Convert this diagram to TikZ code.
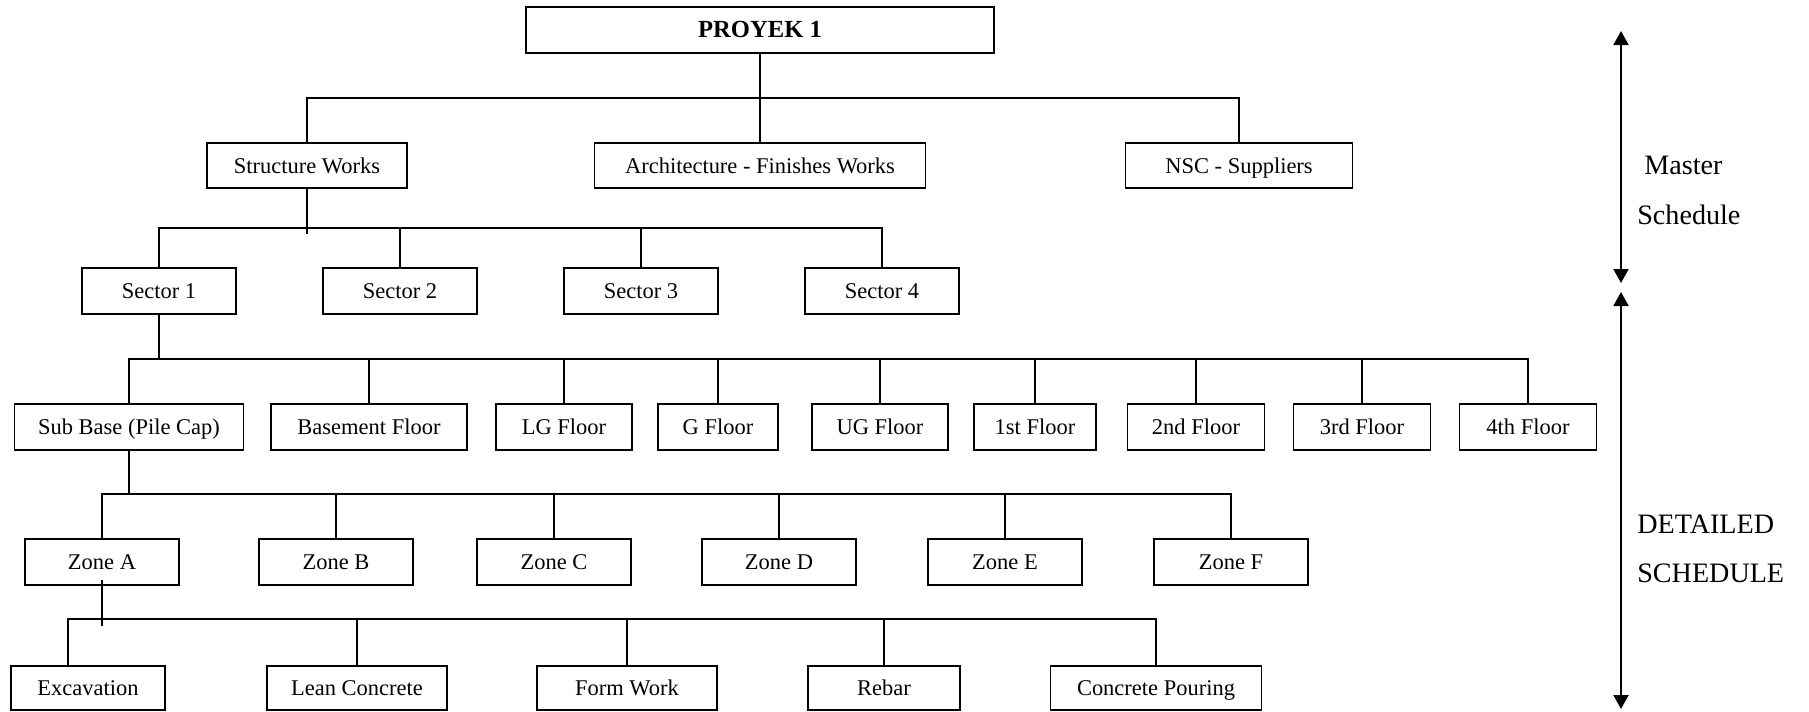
\documentclass[tikz,border=0pt]{standalone}
\usepackage{fontspec}
\setmainfont{Liberation Serif}
\usetikzlibrary{arrows.meta}

\begin{document}
\begin{tikzpicture}[x=0.02cm,y=-0.02cm,
	box/.style={draw,line width=0.8pt,inner sep=0pt,minimum height=0.92cm,text height=0.9em,text depth=0em,font=\fontsize{12.8}{15}\selectfont},
	link/.style={line width=0.8pt},
	span/.style={line width=1.1pt,{Triangle[width=0.3cm,length=0.28cm]}-{Triangle[width=0.3cm,length=0.28cm]}},
	tag/.style={anchor=west,inner sep=0pt,font=\fontsize{16}{18}\selectfont}
	]
	\useasboundingbox (0,0) rectangle (1809,711);

	\node[box,minimum width=9.36cm,font=\fontsize{14}{16}\selectfont\bfseries] (proyek) at (760,30) {PROYEK 1};

	\node[box,minimum width=4cm,minimum height=0.9cm] (sw) at (307,165.5) {Structure Works};
	\node[box,minimum width=6.62cm,minimum height=0.9cm] (arch) at (760,165.5) {Architecture - Finishes Works};
	\node[box,minimum width=4.54cm,minimum height=0.9cm] (nsc) at (1239,165.5) {NSC - Suppliers};

	\node[box,minimum width=3.08cm] (s1) at (159,291) {Sector 1};
	\node[box,minimum width=3.08cm] (s2) at (400,291) {Sector 2};
	\node[box,minimum width=3.08cm] (s3) at (641,291) {Sector 3};
	\node[box,minimum width=3.08cm] (s4) at (882,291) {Sector 4};

	\node[box,minimum width=4.58cm] (sub) at (129,427) {Sub Base (Pile Cap)};
	\node[box,minimum width=3.92cm] (bas) at (369,427) {Basement Floor};
	\node[box,minimum width=2.72cm] (lg) at (564,427) {LG Floor};
	\node[box,minimum width=2.4cm] (gf) at (718,427) {G Floor};
	\node[box,minimum width=2.72cm] (ug) at (880,427) {UG Floor};
	\node[box,minimum width=2.44cm] (f1) at (1035,427) {1st Floor};
	\node[box,minimum width=2.74cm] (f2) at (1196,427) {2nd Floor};
	\node[box,minimum width=2.74cm] (f3) at (1362,427) {3rd Floor};
	\node[box,minimum width=2.74cm] (f4) at (1528,427) {4th Floor};

	\node[box,minimum width=3.08cm] (za) at (102,562) {Zone A};
	\node[box,minimum width=3.08cm] (zb) at (336,562) {Zone B};
	\node[box,minimum width=3.08cm] (zc) at (554,562) {Zone C};
	\node[box,minimum width=3.08cm] (zd) at (779,562) {Zone D};
	\node[box,minimum width=3.08cm] (ze) at (1005,562) {Zone E};
	\node[box,minimum width=3.08cm] (zf) at (1231,562) {Zone F};

	\node[box,minimum width=3.08cm,minimum height=0.88cm] (exc) at (88,688) {Excavation};
	\node[box,minimum width=3.6cm,minimum height=0.88cm] (lean) at (357,688) {Lean Concrete};
	\node[box,minimum width=3.6cm,minimum height=0.88cm] (form) at (627,688) {Form Work};
	\node[box,minimum width=3.04cm,minimum height=0.88cm] (rebar) at (884,688) {Rebar};
	\node[box,minimum width=4.22cm,minimum height=0.88cm] (pour) at (1156,688) {Concrete Pouring};

	% bus levels
	\coordinate (bus1) at (0,98);
	\coordinate (bus2) at (0,228);
	\coordinate (bus3) at (0,359);
	\coordinate (bus4) at (0,494);
	\coordinate (bus5) at (0,619);

	\draw[link] (proyek) -- (arch);
	\draw[link] (sw.north) |- (nsc.north |- bus1) -- (nsc.north);

	\draw[link] (sw.south) -- ++(0,45);
	\draw[link] (s1.north) |- (s4.north |- bus2) -- (s4.north);
	\draw[link] (s2.north) -- (s2.north |- bus2);
	\draw[link] (s3.north) -- (s3.north |- bus2);

	\draw[link] (s1.south) -- (s1.south |- bus3);
	\draw[link] (sub.north) |- (f4.north |- bus3) -- (f4.north);
	\draw[link] (bas.north) -- (bas.north |- bus3);
	\draw[link] (lg.north) -- (lg.north |- bus3);
	\draw[link] (gf.north) -- (gf.north |- bus3);
	\draw[link] (ug.north) -- (ug.north |- bus3);
	\draw[link] (f1.north) -- (f1.north |- bus3);
	\draw[link] (f2.north) -- (f2.north |- bus3);
	\draw[link] (f3.north) -- (f3.north |- bus3);

	\draw[link] (sub.south) -- (sub.south |- bus4);
	\draw[link] (za.north) |- (zf.north |- bus4) -- (zf.north);
	\draw[link] (zb.north) -- (zb.north |- bus4);
	\draw[link] (zc.north) -- (zc.north |- bus4);
	\draw[link] (zd.north) -- (zd.north |- bus4);
	\draw[link] (ze.north) -- (ze.north |- bus4);

	\draw[link] ([yshift=0.12cm]za.south) -- ++(0,46);
	\draw[link] ([xshift=-0.4cm]exc.north) |- (pour.north |- bus5) -- (pour.north);
	\draw[link] (lean.north) -- (lean.north |- bus5);
	\draw[link] (form.north) -- (form.north |- bus5);
	\draw[link] (rebar.north) -- (rebar.north |- bus5);

	% schedule spans
	\coordinate (mtop) at (1621,31);
	\coordinate (mbot) at (1621,283);
	\coordinate (dtop) at (1621,292);
	\coordinate (dbot) at (1621,709);
	\draw[span] (mtop) -- (mbot);
	\draw[span] (dtop) -- (dbot);

	\node[tag] (mst) at (1644,165) {Master};
	\node[tag] (msch) at (1637,215) {Schedule};
	\node[tag] (det) at (1637,524) {DETAILED};
	\node[tag] (dsch) at (1637,573) {SCHEDULE};

\end{tikzpicture}
\end{document}
